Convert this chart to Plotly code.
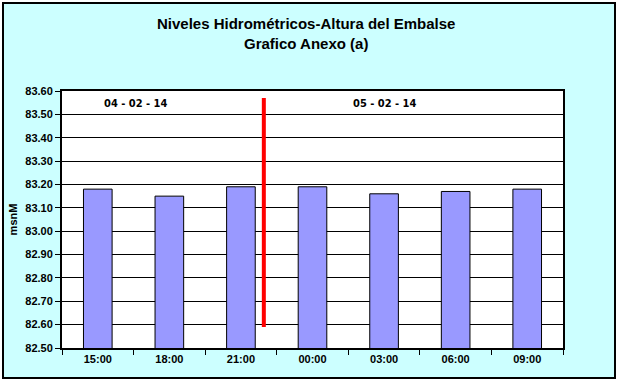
import plotly.graph_objects as go

categories = ["15:00", "18:00", "21:00", "00:00", "03:00", "06:00", "09:00"]
levels = [83.18, 83.15, 83.19, 83.19, 83.16, 83.17, 83.18]
y_ticks = [82.5, 82.6, 82.7, 82.8, 82.9, 83.0, 83.1, 83.2, 83.3, 83.4, 83.5, 83.6]
date_labels = ["04 - 02 - 14", "05 - 02 - 14"]
date_label_pos = [0.53, 4.01]
date_label_y = 83.545
divider_x = 2.32
divider_y = [82.59, 83.57]

W, H = 620, 385
L, R, T, B = 62, 57, 91, 37
pw, ph = W - L - R, H - T - B

def px_x(p):
    return (p - L) / pw

def px_y(p):
    return (H - B - p) / ph

fig = go.Figure()
fig.add_trace(go.Bar(
    x=categories, y=levels,
    marker=dict(color="#9999FF", line=dict(color="black", width=1)),
    width=0.4, showlegend=False,
))

shapes = [
    dict(type="rect", xref="paper", yref="paper",
         x0=px_x(3), x1=px_x(615), y0=px_y(378), y1=px_y(3),
         fillcolor="#CCFFFF", line=dict(color="black", width=2), layer="below"),
    dict(type="rect", xref="paper", yref="paper", x0=0, x1=1, y0=0, y1=1,
         fillcolor="white", line=dict(width=0), layer="below"),
    dict(type="line", xref="x", yref="y", x0=divider_x, x1=divider_x,
         y0=divider_y[0], y1=divider_y[1], line=dict(color="#FF0000", width=4)),
]

annotations = [
    dict(text="<b>Niveles Hidrométricos-Altura del Embalse</b><br><b>Grafico Anexo (a)</b>",
         xref="paper", yref="paper", x=px_x(306), y=px_y(34), showarrow=False,
         font=dict(family="Liberation Sans, Arial", size=15, color="black"),
         xanchor="center", yanchor="middle"),
]
for t, xp in zip(date_labels, date_label_pos):
    annotations.append(dict(text="<b>" + t + "</b>", x=xp, y=date_label_y, xref="x", yref="y",
                            showarrow=False, xanchor="center", yanchor="middle",
                            font=dict(family="Liberation Sans Narrow, Arial Narrow, DejaVu Sans Condensed",
                                      size=11, color="black")))

fig.update_layout(
    width=W, height=H,
    margin=dict(l=L, r=R, t=T, b=B),
    paper_bgcolor="white", plot_bgcolor="white",
    shapes=shapes, annotations=annotations,
    font=dict(family="Liberation Sans, Arial", color="black"),
)
fig.update_xaxes(
    type="category", range=[-0.5, 6.5], tickson="boundaries",
    ticks="outside", ticklen=5, tickcolor="black",
    showline=True, linecolor="black", linewidth=2, mirror=True,
    showgrid=False,
    tickfont=dict(size=11, family="Liberation Sans, Arial"),
    ticktext=["<b>" + c + "</b>" for c in categories], tickvals=categories,
)
fig.update_yaxes(
    range=[82.5, 83.6], tickvals=y_ticks,
    ticktext=["<b>%.2f</b>" % v for v in y_ticks],
    ticks="outside", ticklen=5, tickcolor="black",
    showline=True, linecolor="black", linewidth=2, mirror=True,
    showgrid=True, gridcolor="black", gridwidth=1, zeroline=False,
    tickfont=dict(size=11, family="Liberation Sans, Arial"),
    title=dict(text="<b>msnM</b>", font=dict(size=11), standoff=5),
)
fig.write_html("out.html")
